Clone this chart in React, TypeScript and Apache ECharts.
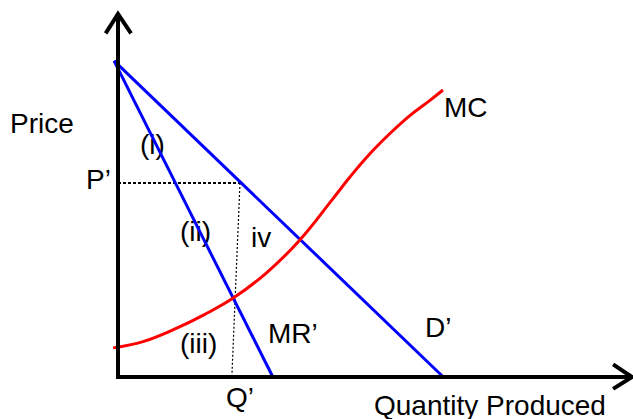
import React, { useEffect, useRef } from "react";
import * as echarts from "echarts";

// Economic diagram data (quantity units on x, price units on y)
const demand: [number, number][] = [[-0.12, 10.1], [10, 0]];
const marginalRevenue: [number, number][] = [[-0.12, 10.1], [4.76, 0]];
const marginalCost: [number, number][] = [
  [-0.15, 0.93], [0.77, 1.13], [1.72, 1.52], [2.67, 2.0], [3.6, 2.56],
  [4.61, 3.37], [5.59, 4.38], [6.61, 5.7], [7.13, 6.39], [7.75, 7.14],
  [8.36, 7.78], [8.98, 8.36], [9.59, 8.84], [9.99, 9.17],
];
const priceLine: [number, number][] = [[0, 6.2], [3.75, 6.2]];
const quantityLine: [number, number][] = [[3.75, 6.2], [3.5, 0]];
const xMin = -0.5;
const xMax = 15.8;
const yMin = -0.5;
const yMax = 11.6;
const axesLine: [number, number][] = [[0, yMax], [0, 0], [xMax, 0]];
const yArrow: [number, number][] = [[-0.38, 10.98], [0, yMax], [0.4, 10.98]];
const xArrow: [number, number][] = [[15.22, 0.4], [xMax, 0], [15.22, -0.38]];

const labels = [
  { text: "Price", x: 10, y: 123 },
  { text: "P\u2019", x: 86, y: 179 },
  { text: "(i)", x: 140, y: 144 },
  { text: "(ii)", x: 180, y: 231 },
  { text: "(iii)", x: 180, y: 343 },
  { text: "iv", x: 251, y: 237 },
  { text: "MC", x: 444, y: 107 },
  { text: "D\u2019", x: 425, y: 327 },
  { text: "MR\u2019", x: 268, y: 333 },
  { text: "Q\u2019", x: 226, y: 397 },
  { text: "Quantity Produced", x: 374, y: 405 },
];

const PX_X = 32.53;
const PX_Y = 31.29;

export default function App() {
  const ref = useRef<HTMLDivElement>(null);
  useEffect(() => {
    if (!ref.current) return;
    const chart = echarts.init(ref.current, null, { renderer: "svg" });
    const line = (data: [number, number][], color: string, width: number, type: any = "solid", smooth: any = false) => ({
      type: "line",
      data,
      symbol: "none",
      clip: false,
      smooth,
      lineStyle: { color, width, type, cap: "butt", join: "miter" },
      silent: true,
    });
    const axisOff = {
      axisLine: { show: false },
      axisTick: { show: false },
      axisLabel: { show: false },
      splitLine: { show: false },
    };
    chart.setOption({
      animation: false,
      backgroundColor: "#ffffff",
      grid: {
        left: 118 + xMin * PX_X,
        top: 14,
        width: (xMax - xMin) * PX_X,
        height: (yMax - yMin) * PX_Y,
      },
      xAxis: { type: "value", min: xMin, max: xMax, ...axisOff },
      yAxis: { type: "value", min: yMin, max: yMax, ...axisOff },
      series: [
        line(priceLine, "#000", 2, [3, 2]),
        line(quantityLine, "#000", 1.2, [2, 2]),
        line(demand, "#0000ff", 3),
        line(marginalRevenue, "#0000ff", 3),
        line(marginalCost, "#ff0000", 3, "solid", 0.4),
        line(axesLine, "#000", 4),
        line(yArrow, "#000", 4),
        line(xArrow, "#000", 4),
      ],
      graphic: labels.map((l) => ({
        type: "text",
        x: l.x,
        y: l.y,
        silent: true,
        style: {
          text: l.text,
          fill: "#000",
          font: "28px 'Liberation Sans', Arial, sans-serif",
          textAlign: "left",
          textVerticalAlign: "middle",
        },
      })),
    });
    return () => chart.dispose();
  }, []);
  return (
    <div
      ref={ref}
      style={{ position: "fixed", left: 0, top: 0, width: 633, height: 419 }}
    />
  );
}
